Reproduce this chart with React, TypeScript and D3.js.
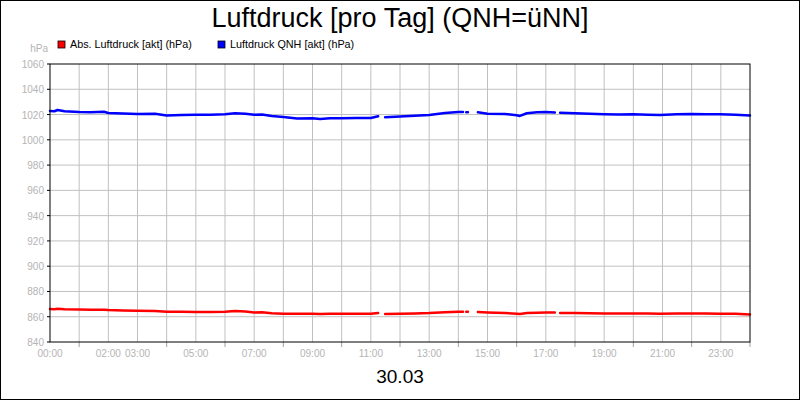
import React from 'react'
import * as d3 from 'd3'

// time of day in hours, null values mark gaps in the record
const hours = [0, 0.15, 0.26, 0.5, 1.0, 1.4, 1.85, 2.0, 2.5, 3.0, 3.6, 4.0, 4.5, 5.0, 5.5, 6.0, 6.34, 6.7, 7.0, 7.27, 7.6, 8.0, 8.47, 9.0, 9.26, 9.6, 10.0, 10.5, 11.0, 11.25, 11.32, 11.49, 12.0, 12.5, 13.0, 13.54, 14.0, 14.16, 14.22, 14.27, 14.33, 14.4, 14.67, 15.0, 15.6, 16.0, 16.11, 16.35, 16.7, 17.0, 17.31, 17.4, 17.49, 18.0, 18.5, 19.0, 19.5, 20.0, 20.5, 20.91, 21.5, 21.98, 22.5, 22.97, 23.5, 24.0]
const qnh: (number | null)[] = [1022.8, 1022.6, 1023.6, 1022.6, 1022.0, 1021.8, 1022.2, 1021.2, 1020.8, 1020.4, 1020.6, 1019.2, 1019.6, 1019.8, 1019.9, 1020.3, 1021.0, 1020.6, 1019.8, 1020.0, 1018.8, 1018.0, 1016.8, 1017.1, 1016.4, 1017.0, 1017.1, 1017.2, 1017.3, 1018.6, null, 1017.9, 1018.4, 1019.0, 1019.7, 1021.3, 1022.0, 1022.0, null, 1021.8, 1021.8, null, 1021.8, 1020.7, 1020.4, 1019.4, 1018.9, 1021.0, 1021.8, 1022.0, 1021.6, null, 1021.5, 1021.0, 1020.6, 1020.3, 1020.1, 1020.2, 1019.9, 1019.7, 1020.3, 1020.5, 1020.2, 1020.3, 1019.8, 1019.2]
const absPressure: (number | null)[] = [866.1, 866.0, 866.3, 866.0, 865.8, 865.6, 865.6, 865.3, 865.0, 864.7, 864.5, 864.0, 863.9, 863.7, 863.8, 864.0, 864.5, 864.2, 863.4, 863.5, 862.8, 862.4, 862.3, 862.3, 862.2, 862.4, 862.4, 862.3, 862.4, 862.9, null, 862.1, 862.4, 862.6, 862.9, 863.5, 864.0, 864.0, null, 863.9, 863.9, null, 863.7, 863.4, 863.0, 862.4, 862.1, 862.9, 863.2, 863.4, 863.4, null, 863.0, 863.0, 862.8, 862.6, 862.6, 862.5, 862.5, 862.4, 862.5, 862.6, 862.5, 862.4, 862.3, 861.8]

const yTicks = [840, 860, 880, 900, 920, 940, 960, 980, 1000, 1020, 1040, 1060]
const labelHours = [0, 2, 3, 5, 7, 9, 11, 13, 15, 17, 19, 21, 23]
const seriesNames = ['Abs. Luftdruck [akt] (hPa)', 'Luftdruck QNH [akt] (hPa)']
const seriesColors = ['#ff0000', '#0000ff']

const App = () => {
    const width = 800, height = 400
    const left = 50, right = 750, top = 64, bottom = 342

    const x = d3.scaleLinear().domain([0, 24]).range([left, right])
    const y = d3.scaleLinear().domain([840, 1060]).range([bottom, top])

    const makePath = (values: (number | null)[]) =>
        d3.line<number>()
            .defined((_, i) => values[i] != null)
            .x((h) => x(h))
            .y((_, i) => y(values[i] as number))(hours) || ''
    const absPath = makePath(absPressure)
    const qnhPath = makePath(qnh)

    const allHours = d3.range(0, 25)
    const grey = '#b4b4b4'
    const font = 'Arial, "Liberation Sans", sans-serif'

    return (
        <svg width={width} height={height} style={{ position: 'absolute', left: 0, top: 0, display: 'block' }} fontFamily={font}>
            <rect x={0.5} y={0.5} width={width - 1} height={height - 1} fill="#fff" stroke="#000" />
            <text x={400} y={27} textAnchor="middle" fontSize={27} fill="#000">Luftdruck [pro Tag] (QNH=üNN]</text>

            {/* legend */}
            {seriesNames.map((n, i) => (
                <g key={n} transform={`translate(${i === 0 ? 58 : 218},41)`}>
                    <rect x={0} y={0} width={7} height={7} fill={seriesColors[i]} stroke="#000" strokeWidth={0.8} />
                    <text x={12} y={7} fontSize={10.8} fill="#000">{n}</text>
                </g>
            ))}

            <text x={48} y={52} textAnchor="end" fontSize={10} fill={grey}>hPa</text>

            {/* grid */}
            {yTicks.slice(1, -1).map(t => (
                <line key={'gy' + t} x1={left} x2={right} y1={y(t)} y2={y(t)} stroke="#c0c0c0" />
            ))}
            {allHours.slice(1, -1).map(h => (
                <line key={'gx' + h} x1={x(h)} x2={x(h)} y1={top} y2={bottom} stroke="#c0c0c0" />
            ))}

            {/* y axis */}
            {yTicks.map(t => (
                <g key={'yt' + t}>
                    <line x1={left - 3} x2={left} y1={y(t)} y2={y(t)} stroke="#000" />
                    <text x={44} y={y(t) + 4} textAnchor="end" fontSize={10} fill={grey}>{t}</text>
                </g>
            ))}

            {/* x axis: ticks only on the hours without a label */}
            {allHours.filter(h => !labelHours.includes(h)).map(h => (
                <line key={'xt' + h} x1={x(h)} x2={x(h)} y1={bottom} y2={bottom + 5} stroke="#a0a0a0" />
            ))}
            {labelHours.map(h => (
                <text key={'xl' + h} x={x(h)} y={357} textAnchor="middle" fontSize={10} fill={grey}>
                    {d3.format('02d')(h) + ':00'}
                </text>
            ))}

            <path d={absPath} fill="none" stroke={seriesColors[0]} strokeWidth={2.5} strokeLinejoin="round" strokeLinecap="round" />
            <path d={qnhPath} fill="none" stroke={seriesColors[1]} strokeWidth={2.5} strokeLinejoin="round" strokeLinecap="round" />

            <rect x={left} y={top} width={right - left} height={bottom - top} fill="none" stroke="#000" />

            <text x={400} y={383} textAnchor="middle" fontSize={19} fill="#000">30.03</text>
        </svg>
    )
}

export default App
